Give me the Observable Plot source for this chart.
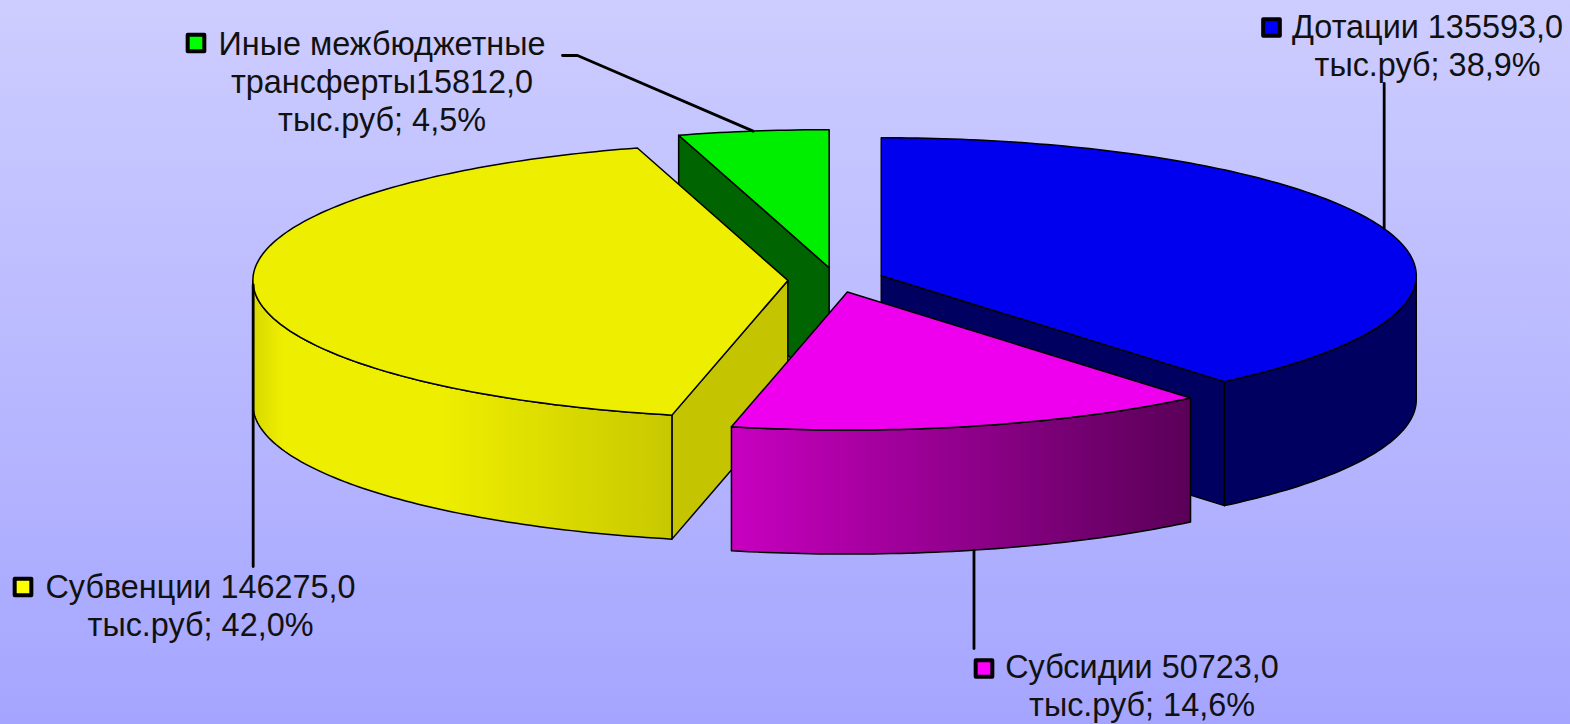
<!DOCTYPE html>
<html><head><meta charset="utf-8">
<script src="https://cdn.jsdelivr.net/npm/d3@7"></script>
<script src="https://cdn.jsdelivr.net/npm/@observablehq/plot@0.6"></script>
<style>html,body{margin:0;padding:0;background:#b5b5ff}svg{display:block}</style>
</head><body><div id="chart"></div>
<script>
// Data (clockwise from 12 o'clock)
const categories = ["Дотации", "Субсидии", "Субвенции", "Иные межбюджетные трансферты"];
const values = [135593.0, 50723.0, 146275.0, 15812.0];
const labelTexts = [
  "Дотации 135593,0\nтыс.руб; 38,9%",
  "Субсидии 50723,0\nтыс.руб; 14,6%",
  "Субвенции 146275,0\nтыс.руб; 42,0%",
  "Иные межбюджетные\nтрансферты15812,0\nтыс.руб; 4,5%"
];
const keyColors = ["#0000ff", "#ff00ff", "#ffff00", "#00ff00"];
const topColors = ["#0000ee", "#ee00ee", "#eeee00", "#00ee00"];
const radialColors = ["#000060", "#5f005f", "#c4c400", "#006400"];

// Pie layout (projection of the tilted disc)
const W = 1570, H = 724, CX = 835.5, CY = 279.5, RX = 535, RY = 138, DEPTH = 124, EXPLODE = 0.09;
const total = d3.sum(values);
let acc = 0;
const slices = values.map((v, i) => {
  const a0 = acc / total * 2 * Math.PI; acc += v;
  const a1 = acc / total * 2 * Math.PI, mid = (a0 + a1) / 2;
  return {i, a0, a1, mid, cx: CX + EXPLODE * RX * Math.sin(mid), cy: CY - EXPLODE * RY * Math.cos(mid)};
});
const pt = (s, a, dz = 0) => [s.cx + RX * Math.sin(a), s.cy - RY * Math.cos(a) + dz];
const arc = (s, a0, a1, dz = 0) => {
  const n = Math.max(2, Math.ceil(Math.abs(a1 - a0) * 60));
  return d3.range(n + 1).map(k => pt(s, a0 + (a1 - a0) * k / n, dz));
};
const face = (points, fill) => Plot.line(points, {
  x: d => d[0], y: d => d[1], curve: "linear-closed", fill,
  stroke: "#000", strokeWidth: 1.5, strokeLinejoin: "round"
});
const topFace = s => face([[s.cx, s.cy], ...arc(s, s.a0, s.a1)], topColors[s.i]);
const wall = (s, a, fill) => face([[s.cx, s.cy], pt(s, a), pt(s, a, DEPTH), [s.cx, s.cy + DEPTH]], fill);
const rim = (s, a0, a1, fill) => face([...arc(s, a0, a1), ...arc(s, a1, a0, DEPTH)], fill);

const [blue, pink, yellow, green] = slices;

const gradient = (id, x1, x2, stops) => `<linearGradient id="${id}" gradientUnits="userSpaceOnUse" x1="${x1}" x2="${x2}" y1="0" y2="0">${stops.map(([o, c]) => `<stop offset="${o}" stop-color="${c}"/>`).join("")}</linearGradient>`;
const defsMark = () => {
  const g = document.createElementNS("http://www.w3.org/2000/svg", "g");
  g.innerHTML = `<defs>
    ${gradient("rimYellow", pt(yellow, 1.5 * Math.PI)[0], pt(yellow, yellow.a0)[0], [[0, "#d8d800"], [0.07, "#eeee00"], [0.45, "#eeee00"], [1, "#c8c800"]])}
    ${gradient("rimPink", pt(pink, pink.a1)[0], pt(pink, pink.a0)[0], [[0, "#c800c0"], [1, "#5a0058"]])}
  </defs>`;
  return g;
};

const leader = (s, endPts, dz = 0) => Plot.line([pt(s, s.mid, dz), ...endPts], {
  x: d => d[0], y: d => d[1], stroke: "#000", strokeWidth: 2.8
});

// Label placement: text-block centre and key marker
const labels = [
  {x: 1427, y: 44, kx: 1271, ky: 27, i: 0},
  {x: 1141.5, y: 684.5, kx: 983.5, ky: 668, i: 1},
  {x: 200, y: 604, kx: 22.5, ky: 586.5, i: 2},
  {x: 381.5, y: 80, kx: 195.5, ky: 42.5, i: 3}
].map(d => ({...d, text: labelTexts[d.i]}));

const chart = Plot.plot({
  width: W, height: H, margin: 0,
  x: {domain: [0, W], range: [0, W], axis: null},
  y: {domain: [0, H], range: [0, H], axis: null},
  style: {background: "linear-gradient(to bottom,#cdcdff 0%,#a5a5ff 100%)", overflow: "hidden"},
  marks: [
    defsMark,
    wall(green, green.a0, radialColors[3]),
    topFace(green),
    wall(blue, blue.a1, radialColors[0]),
    rim(blue, Math.PI / 2, blue.a1, radialColors[0]),
    topFace(blue),
    wall(yellow, yellow.a0, radialColors[2]),
    rim(yellow, yellow.a0, 1.5 * Math.PI, "url(#rimYellow)"),
    topFace(yellow),
    rim(pink, pink.a0, pink.a1, "url(#rimPink)"),
    topFace(pink),
    leader(blue, [[pt(blue, blue.mid)[0], 83]]),
    leader(pink, [[pt(pink, pink.mid)[0], 648]], DEPTH),
    leader(yellow, [[pt(yellow, yellow.mid)[0], 566]]),
    leader(green, [[577, 55], [562, 55]]),
    Plot.dot(labels, {x: "kx", y: "ky", symbol: "square", r: 9.4, fill: d => keyColors[d.i], stroke: "#000", strokeWidth: 4, strokeLinejoin: "round"}),
    Plot.text(labels, {x: "x", y: "y", text: "text", textAnchor: "middle", lineAnchor: "middle", lineHeight: 1.17, fontSize: 32.4, fontFamily: "Liberation Sans", fill: "#111"})
  ]
});
document.getElementById("chart").appendChild(chart);
</script></body></html>
